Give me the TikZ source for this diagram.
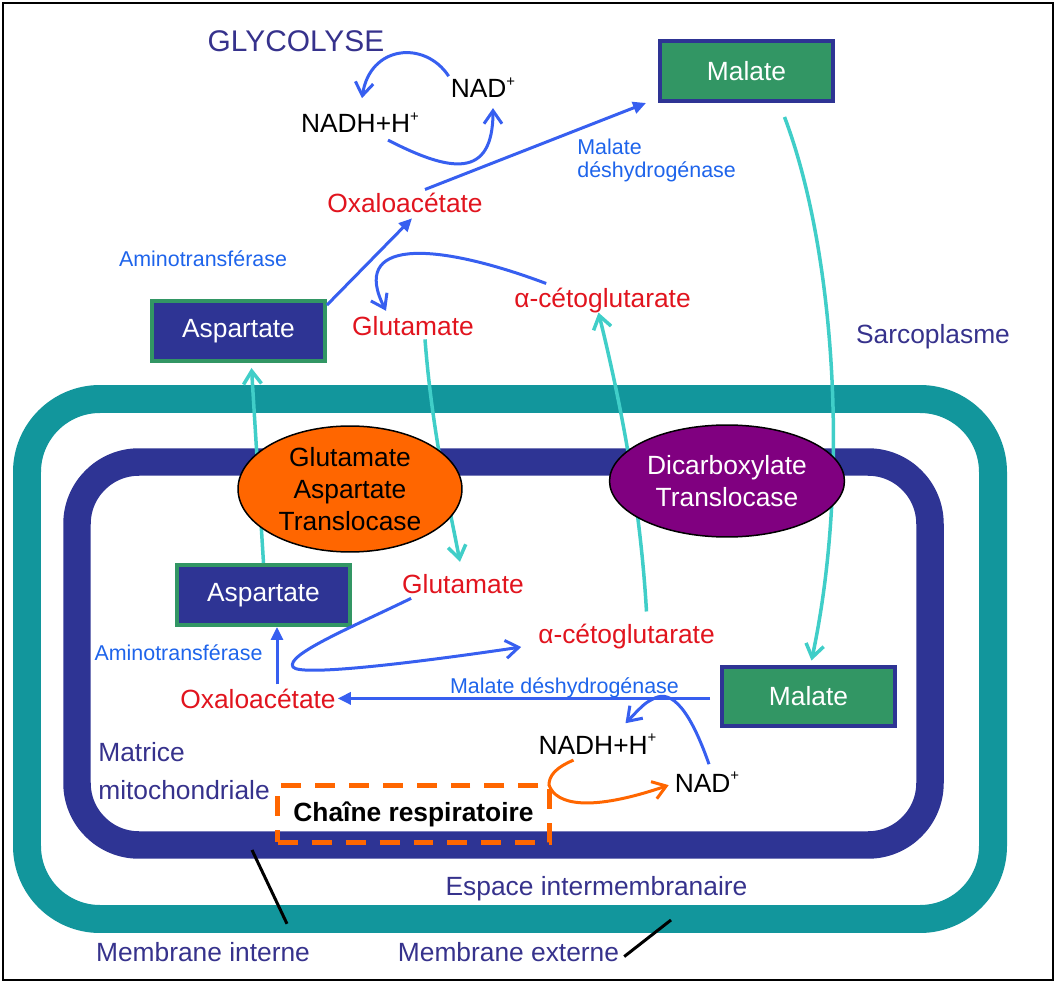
\documentclass[tikz,border=0pt]{standalone}
\usepackage{fontspec}
\setmainfont{Liberation Sans}
\usetikzlibrary{arrows.meta,shapes.geometric,calc}
\definecolor{navy}{RGB}{46,52,148}
\definecolor{navytext}{RGB}{54,50,140}
\definecolor{tealband}{RGB}{18,150,156}
\definecolor{turq}{RGB}{64,206,200}
\definecolor{enzblue}{RGB}{30,100,235}
\definecolor{arrblue}{RGB}{55,95,240}
\definecolor{metred}{RGB}{225,20,30}
\definecolor{malgreen}{RGB}{50,150,100}
\definecolor{gatorange}{RGB}{255,102,0}
\definecolor{dctpurple}{RGB}{128,0,128}
\newcommand{\plussup}{\raisebox{0.42em}{\fontsize{8.5}{8.5}\selectfont +}}
\begin{document}
\begin{tikzpicture}[x=0.02cm,y=-0.02cm]
\tikzstyle{lbl} = [inner sep=1pt, font=\fontsize{15}{18}\selectfont]
\tikzstyle{met} = [lbl, text=metred]
\tikzstyle{enz} = [inner sep=1pt, text=enzblue, font=\fontsize{12.2}{13.1}\selectfont]
\tikzstyle{zone} = [lbl, text=navytext]
\tikzstyle{malbox} = [rectangle, fill=malgreen, draw=navy, line width=0.08cm, text=white, minimum width=3.46cm, minimum height=1.2cm, font=\fontsize{15}{18}\selectfont]
\tikzstyle{aspbox} = [malbox, fill=navy, draw=malgreen]
\tikzstyle{transl} = [ellipse, draw=black, line width=0.03cm, inner sep=0pt, align=center, font=\fontsize{15}{18}\selectfont]
\tikzstyle{conv} = [arrblue, line width=0.06cm]
\tikzstyle{vtip} = [-{Straight Barb[length=0.26cm,width=0.36cm]}]
\tikzstyle{ftip} = [-{Triangle[length=0.26cm,width=0.24cm]}]
\tikzstyle{transp} = [turq, line width=0.07cm, vtip]

\useasboundingbox (0,0) rectangle (1056,983);
\draw[line width=0.04cm] (3,3) rectangle (1053,980);

\draw[tealband, line width=0.56cm, rounded corners=1.46cm] (27,399) rectangle (993,919);
\draw[navy, line width=0.55cm, rounded corners=1.24cm] (77,462) rectangle (930,845);

\node at (296,52) [lbl, anchor=base, text=navytext, font=\fontsize{17}{20}\selectfont] (GLY) {GLYCOLYSE};
\node at (483,98) [lbl, anchor=base] (NADa) {NAD\plussup};
\node at (360,133) [lbl, anchor=base] (NADHa) {NADH+H\plussup};
\node at (405,213) [met, anchor=base] (OXa) {Oxaloacétate};
\node at (746.5,71) [malbox] (MALa) {Malate};
\node at (577,139) [enz, anchor=north west, align=left, inner sep=0pt] (MDHa) {Malate\\déshydrogénase};
\node at (203,267) [enz, anchor=base] (AMa) {Aminotransférase};
\node at (238.5,331) [aspbox] (ASPa) {Aspartate};
\node at (413,336) [met, anchor=base] (GLUa) {Glutamate};
\node at (602.5,308) [met, anchor=base] (AKGa) {α-cétoglutarate};
\node at (933,344) [zone, anchor=base] (SARC) {Sarcoplasme};

\node at (263.5,595) [aspbox] (ASPb) {Aspartate};
\node at (463,593) [met, anchor=base] (GLUb) {Glutamate};
\node at (626.5,643) [met, anchor=base] (AKGb) {α-cétoglutarate};
\node at (178.5,661) [enz, anchor=base] (AMb) {Aminotransférase};
\node at (258,708) [met, anchor=base] (OXb) {Oxaloacétate};
\node at (564.5,693) [enz, anchor=base] (MDHb) {Malate déshydrogénase};
\node at (808.5,696.5) [malbox] (MALb) {Malate};
\node at (597.5,754) [lbl, anchor=base] (NADHb) {NADH+H\plussup};
\node at (707,792) [lbl, anchor=base] (NADb) {NAD\plussup};

\draw[transp] ($(GLUa.south)+(12,1)$) .. controls (432,430) and (448,500) .. ($(GLUb.north)+(-3,-10)$);
\draw[transp] (ASPb.north) -- ($(ASPa.south)+(13,5)$);
\draw[transp] ($(AKGb.north)+(20,-10)$) .. controls (640,500) and (620,400) .. ($(AKGa.south)+(-4,-3)$);
\draw[transp] ($(MALa.south)+(38,14)$) .. controls (835,250) and (850,480) .. ($(MALb.north)+(3,-4)$);

\node at (350,489) [transl, fill=gatorange, minimum width=4.48cm, minimum height=2.52cm] (GAT) {Glutamate\\Aspartate\\Translocase};
\node at (727,481) [transl, fill=dctpurple, text=white, minimum width=4.7cm, minimum height=2.24cm] (DCT) {Dicarboxylate\\Translocase};

\node at (413.5,814) [rectangle, draw=gatorange, line width=0.09cm, dash pattern=on 0.4cm off 0.28cm, minimum width=5.44cm, minimum height=1.14cm, font={\fontsize{15}{18}\selectfont\bfseries}] (CR) {Chaîne respiratoire};
\node at (98,742) [zone, anchor=north west, align=left, inner sep=0pt, font=\fontsize{15}{21.6}\selectfont] (MAT) {Matrice\\mitochondriale};
\node at (596.5,895) [zone, anchor=base] (EIM) {Espace intermembranaire};
\node at (203,961) [zone, anchor=base] (MI) {Membrane interne};
\node at (508.5,961) [zone, anchor=base] (ME) {Membrane externe};

\draw[conv, vtip] (NADa.north west) .. controls (425,40) and (370,45) .. ($(NADHa.north)+(2,-13)$);
\draw[conv, vtip] ($(NADHa.south)+(28,5)$) .. controls (450,172) and (493,180) .. ($(NADa.south)+(10,8)$);
\draw[conv, ftip] ($(OXa.north)+(20,-2)$) -- ($(MALa.south west)+(-12,0)$);
\draw[conv, ftip] ($(ASPa.north east)+(0,6)$) -- ($(OXa.south)+(7,3)$);
\draw[conv, vtip] ($(AKGa.north west)+(34,-3)$) .. controls (430,240) and (350,240) .. ($(GLUa.north)+(-27,-4)$);

\coordinate (AMfoot) at ($(OXb.north)+(19,-2)$);
\draw[conv, ftip] (AMfoot) -- (AMfoot |- ASPb.south);
\draw[conv, ftip, shorten <=0.2cm] (MALb.west |- OXb.east) -- (OXb.east);
\draw[conv, vtip] ($(GLUb.south west)+(11,3)$) .. controls (350,628) and (285,655) .. (293,667) .. controls (300,677) and (420,662) .. ($(AKGb.west)+(-15,11)$);
\draw[conv, vtip] ($(NADb.north)+(2,-6)$) .. controls (690,710) and (672,690) .. (655,698) .. controls (645,703) .. ($(NADHb.north)+(28,-9)$);
\draw[gatorange, line width=0.06cm, vtip] ($(NADHb.south)+(-24,4)$) .. controls (555,768) and (549,776) .. (549,785) .. controls (556,805) and (590,812) .. ($(NADb.west)+(-4,3)$);

\coordinate (MIp) at (252,850);
\draw[line width=0.06cm] (MIp) -- ($(MI.north)+(84,-16)$);
\coordinate (MEp) at (671,920);
\draw[line width=0.06cm] ($(ME.east)+(3,5)$) -- (MEp);
\end{tikzpicture}
\end{document}
